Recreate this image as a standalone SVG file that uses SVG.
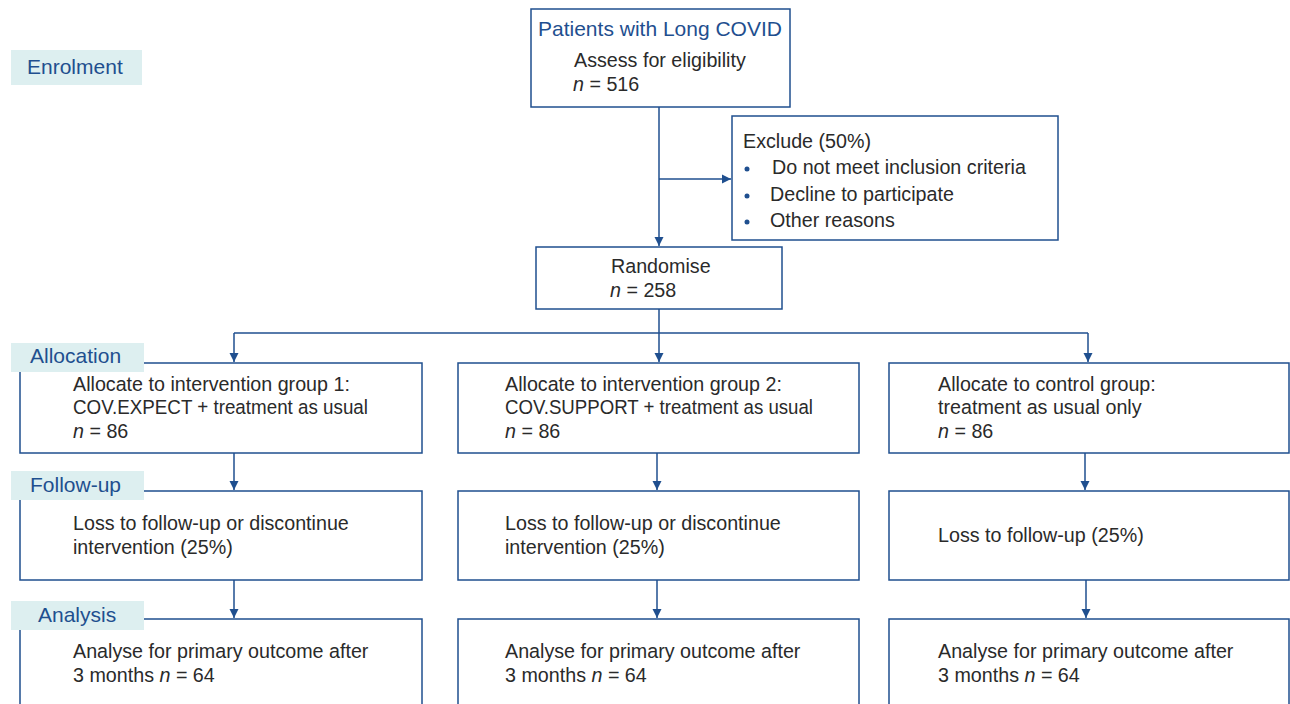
<svg xmlns="http://www.w3.org/2000/svg" width="1290" height="704" viewBox="0 0 1290 704">
<defs>
<marker id="ah" markerWidth="10" markerHeight="10" refX="9" refY="5" orient="auto" markerUnits="userSpaceOnUse">
<path d="M0,0.5 L9,5 L0,9.5 Z" fill="#1f4f8f"/>
</marker>
<style>
.box{fill:#fff;stroke:#1f4f8f;stroke-width:1.5}
.lbl{fill:#ddeff0}
.lt{font-family:"Liberation Sans",Arial,sans-serif;font-size:21px;fill:#1f4f8f}
.t{font-family:"Liberation Sans",Arial,sans-serif;font-size:19.7px;fill:#2a2a2a}
.it{font-style:italic}
.c{fill:none;stroke:#1f4f8f;stroke-width:1.5}
.b{fill:#1f4f8f}
</style>
</defs>
<rect width="1290" height="704" fill="#fff"/>
<g id="connectors">
<path class="c" d="M659,107 V246" marker-end="url(#ah)"/>
<path class="c" d="M659,179 H731" marker-end="url(#ah)"/>
<path class="c" d="M659,309 V333"/>
<path class="c" d="M234,333 H1088"/>
<path class="c" d="M234,333 V362" marker-end="url(#ah)"/>
<path class="c" d="M659,333 V362" marker-end="url(#ah)"/>
<path class="c" d="M1088,333 V362" marker-end="url(#ah)"/>
<path class="c" d="M234,453 V490" marker-end="url(#ah)"/>
<path class="c" d="M657,453 V490" marker-end="url(#ah)"/>
<path class="c" d="M1085,453 V490" marker-end="url(#ah)"/>
<path class="c" d="M234,580 V618" marker-end="url(#ah)"/>
<path class="c" d="M657,580 V618" marker-end="url(#ah)"/>
<path class="c" d="M1086,580 V618" marker-end="url(#ah)"/>
</g>
<g id="start">
<rect class="box" x="531" y="9" width="259" height="98"/>
<text class="lt" x="538" y="36">Patients with Long COVID</text>
<text class="t" x="574" y="67">Assess for eligibility</text>
<text class="t" x="573" y="91"><tspan class="it">n</tspan> = 516</text>
</g>
<g id="exclude">
<rect class="box" x="732" y="116" width="326" height="124"/>
<text class="t" x="743" y="148">Exclude (50%)</text>
<circle class="b" cx="747" cy="169" r="2.5"/>
<text class="t" x="772" y="174">Do not meet inclusion criteria</text>
<circle class="b" cx="747" cy="196" r="2.5"/>
<text class="t" x="770" y="201">Decline to participate</text>
<circle class="b" cx="747" cy="222" r="2.5"/>
<text class="t" x="770" y="227">Other reasons</text>
</g>
<g id="randomise">
<rect class="box" x="536" y="247" width="246" height="62"/>
<text class="t" x="611" y="273">Randomise</text>
<text class="t" x="610" y="297"><tspan class="it">n</tspan> = 258</text>
</g>
<g id="alloc1">
<rect class="box" x="20" y="363" width="402" height="90"/>
<text class="t" x="73" y="391">Allocate to intervention group 1:</text>
<text class="t" x="73" y="414" textLength="295" lengthAdjust="spacingAndGlyphs">COV.EXPECT + treatment as usual</text>
<text class="t" x="73" y="438"><tspan class="it">n</tspan> = 86</text>
</g>
<g id="alloc2">
<rect class="box" x="458" y="363" width="401" height="90"/>
<text class="t" x="505" y="391">Allocate to intervention group 2:</text>
<text class="t" x="505" y="414" textLength="308" lengthAdjust="spacingAndGlyphs">COV.SUPPORT + treatment as usual</text>
<text class="t" x="505" y="438"><tspan class="it">n</tspan> = 86</text>
</g>
<g id="alloc3">
<rect class="box" x="889" y="363" width="400" height="90"/>
<text class="t" x="938" y="391">Allocate to control group:</text>
<text class="t" x="938" y="414">treatment as usual only</text>
<text class="t" x="938" y="438"><tspan class="it">n</tspan> = 86</text>
</g>
<g id="follow1">
<rect class="box" x="20" y="491" width="402" height="89"/>
<text class="t" x="73" y="530">Loss to follow-up or discontinue</text>
<text class="t" x="73" y="554">intervention (25%)</text>
</g>
<g id="follow2">
<rect class="box" x="458" y="491" width="401" height="89"/>
<text class="t" x="505" y="530">Loss to follow-up or discontinue</text>
<text class="t" x="505" y="554">intervention (25%)</text>
</g>
<g id="follow3">
<rect class="box" x="889" y="491" width="400" height="89"/>
<text class="t" x="938" y="542">Loss to follow-up (25%)</text>
</g>
<g id="analysis1">
<rect class="box" x="20" y="619" width="402" height="95"/>
<text class="t" x="73" y="658">Analyse for primary outcome after</text>
<text class="t" x="73" y="682">3 months <tspan class="it">n</tspan> = 64</text>
</g>
<g id="analysis2">
<rect class="box" x="458" y="619" width="401" height="95"/>
<text class="t" x="505" y="658">Analyse for primary outcome after</text>
<text class="t" x="505" y="682">3 months <tspan class="it">n</tspan> = 64</text>
</g>
<g id="analysis3">
<rect class="box" x="889" y="619" width="400" height="95"/>
<text class="t" x="938" y="658">Analyse for primary outcome after</text>
<text class="t" x="938" y="682">3 months <tspan class="it">n</tspan> = 64</text>
</g>
<g id="label-enrolment">
<rect class="lbl" x="11" y="50" width="131" height="35"/>
<text class="lt" x="27" y="74">Enrolment</text>
</g>
<g id="label-allocation">
<rect class="lbl" x="11" y="343" width="133" height="29"/>
<text class="lt" x="30" y="363">Allocation</text>
</g>
<g id="label-followup">
<rect class="lbl" x="11" y="471" width="133" height="29"/>
<text class="lt" x="30" y="492">Follow-up</text>
</g>
<g id="label-analysis">
<rect class="lbl" x="11" y="601" width="133" height="29"/>
<text class="lt" x="38" y="622">Analysis</text>
</g>
</svg>
